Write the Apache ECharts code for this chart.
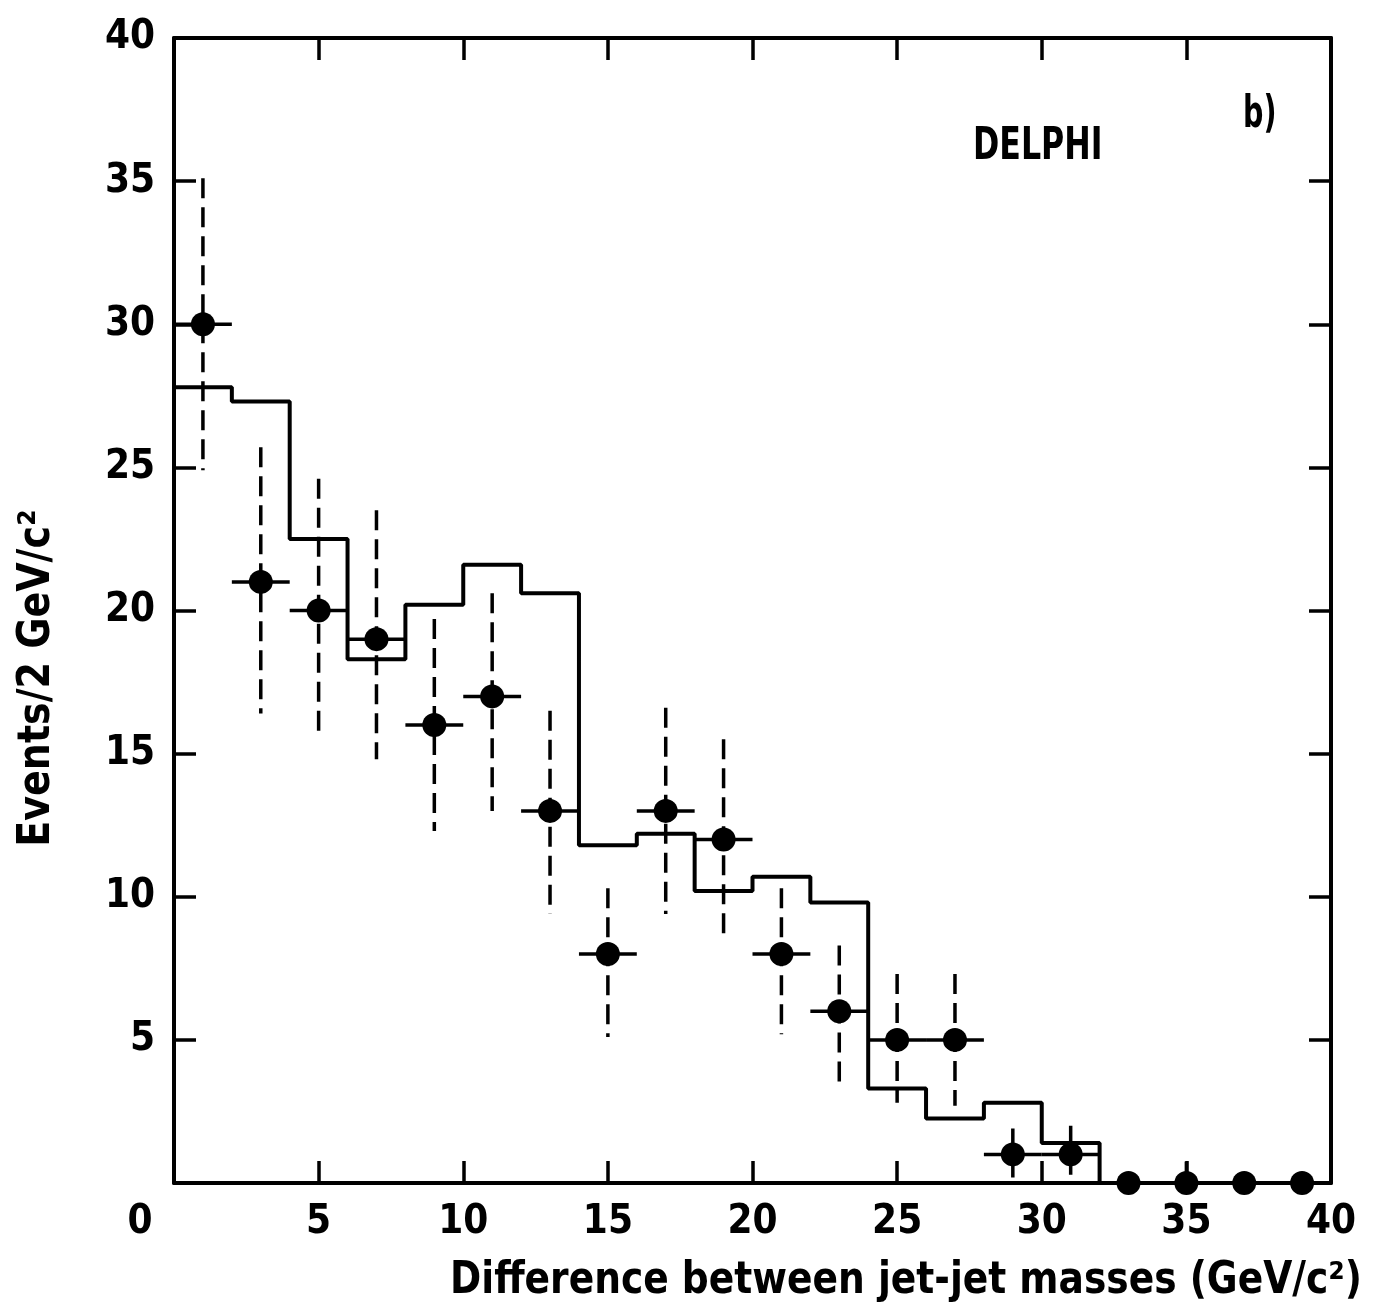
<!DOCTYPE html>
<html>
<head>
<meta charset="utf-8">
<title>DELPHI jet-jet mass difference</title>
<script src="https://cdn.jsdelivr.net/npm/echarts@6/dist/echarts.min.js"></script>
<style>
  html, body { margin: 0; padding: 0; background: #fff; }
  #chart { width: 1375px; height: 1314px; }
</style>
</head>
<body>
<div id="chart"></div>
<script>
// bin centres (GeV/c^2), 2 GeV bins
var binCenters = [1, 3, 5, 7, 9, 11, 13, 15, 17, 19, 21, 23, 25, 27, 29, 31, 33, 35, 37, 39];
// data points (events / 2 GeV)
var dataVals = [30, 21, 20, 19, 16, 17, 13, 8, 13, 12, 8, 6, 5, 5, 1, 1, 0, 0, 0, 0];
// dashed error bar ends (null = no bar)
var errLow = [24.9, 16.4, 15.6, 14.8, 12.3, 13.0, 9.4, 5.1, 9.4, 8.6, 5.2, 3.5, 2.8, 2.7, 0, 0, null, 0, null, null];
var errHigh = [35.1, 25.7, 24.6, 23.5, 19.7, 20.6, 16.5, 10.3, 16.6, 15.5, 10.3, 8.3, 7.3, 7.3, 1.9, 2.0, null, 0.75, null, null];
// histogram (simulation), left bin edges and heights
var binEdges = [0, 2, 4, 6, 8, 10, 12, 14, 16, 18, 20, 22, 24, 26, 28, 30, 32, 34, 36, 38];
var histVals = [27.8, 27.3, 22.5, 18.3, 20.2, 21.6, 20.6, 11.8, 12.2, 10.2, 10.7, 9.8, 3.3, 2.25, 2.8, 1.4, 0, 0, 0, 0];

var FONT = '"Liberation Sans Narrow", "DejaVu Sans Condensed", sans-serif';

var histData = [];
for (var i = 0; i < binEdges.length; i++) {
    histData.push([binEdges[i], histVals[i]]);
}
histData.push([40, 0]);

var pointData = [];
var barData = [];
for (var j = 0; j < binCenters.length; j++) {
    pointData.push([binCenters[j], dataVals[j]]);
    barData.push([binCenters[j], dataVals[j],
        errLow[j] === null ? NaN : errLow[j],
        errHigh[j] === null ? NaN : errHigh[j]]);
}

// axis look shared by the 4 sides of the frame
function frameAxis(pos, showLabel, isX) {
    return {
        type: 'value',
        position: pos,
        min: 0,
        max: 40,
        interval: 5,
        splitLine: { show: false },
        axisLine: { show: true, onZero: false, lineStyle: { color: '#000', width: 4 } },
        axisTick: { show: true, inside: true, length: 22, lineStyle: { color: '#000', width: 3.5 } },
        axisLabel: {
            show: showLabel,
            color: '#000',
            fontFamily: FONT,
            fontWeight: 'bold',
            fontSize: 40,
            margin: isX ? 20 : 19,
            formatter: function (v) {
                if (isX) return v === 0 ? '{z|0}' : String(v);
                return v === 0 ? '' : String(v);
            },
            rich: {
                z: { fontFamily: FONT, fontWeight: 'bold', fontSize: 40, color: '#000', padding: [0, 68, 0, 0] }
            }
        }
    };
}

var chart = echarts.init(document.getElementById('chart'), null, { renderer: 'canvas' });
chart.setOption({
    animation: false,
    backgroundColor: '#fff',
    grid: { left: 174, right: 44, top: 38, bottom: 131 },
    xAxis: [frameAxis('bottom', true, true), frameAxis('top', false, true)],
    yAxis: [frameAxis('left', true, false), frameAxis('right', false, false)],
    series: [
        {
            name: 'histogram',
            type: 'line',
            step: 'end',
            symbol: 'none',
            data: histData,
            lineStyle: { color: '#000', width: 4 },
            z: 3
        },
        {
            name: 'errors',
            type: 'custom',
            data: barData,
            renderItem: function (params, api) {
                var x = api.value(0);
                var y = api.value(1);
                var lo = api.value(2);
                var hi = api.value(3);
                var kids = [];
                if (y > 0) {
                    var a = api.coord([x - 1, y]);
                    var b = api.coord([x + 1, y]);
                    kids.push({
                        type: 'line',
                        shape: { x1: a[0], y1: a[1], x2: b[0], y2: b[1] },
                        style: { stroke: '#000', lineWidth: 3.5 }
                    });
                }
                if (!isNaN(lo) && !isNaN(hi)) {
                    var p = api.coord([x, hi]);
                    var q = api.coord([x, lo]);
                    kids.push({
                        type: 'line',
                        shape: { x1: p[0], y1: p[1], x2: q[0], y2: q[1] },
                        style: { stroke: '#000', lineWidth: 3.5, lineDash: [20, 9] }
                    });
                }
                return { type: 'group', children: kids };
            },
            z: 4
        },
        {
            name: 'data',
            type: 'scatter',
            symbol: 'circle',
            symbolSize: 24,
            data: pointData,
            itemStyle: { color: '#000', opacity: 1 },
            z: 5
        }
    ],
    graphic: [
        {
            type: 'text',
            x: 973, y: 126,
            scaleX: 0.8,
            style: { text: 'DELPHI', font: 'bold 44px ' + FONT, fill: '#000', align: 'left', verticalAlign: 'top' }
        },
        {
            type: 'text',
            x: 1243, y: 94,
            scaleX: 0.72,
            style: { text: 'b)', font: 'bold 44px ' + FONT, fill: '#000', align: 'left', verticalAlign: 'top' }
        },
        {
            // y axis title, rotated
            type: 'text',
            x: 38, y: 678,
            rotation: Math.PI / 2,
            scaleX: 0.96,
            style: { text: 'Events/2 GeV/c²', font: 'bold 44px ' + FONT, fill: '#000', align: 'center', verticalAlign: 'middle' }
        },
        {
            type: 'text',
            x: 1362, y: 1282,
            scaleX: 0.95,
            style: { text: 'Difference between jet-jet masses (GeV/c²)', font: 'bold 44px ' + FONT, fill: '#000', align: 'right', verticalAlign: 'middle' }
        }
    ]
});
</script>
</body>
</html>
